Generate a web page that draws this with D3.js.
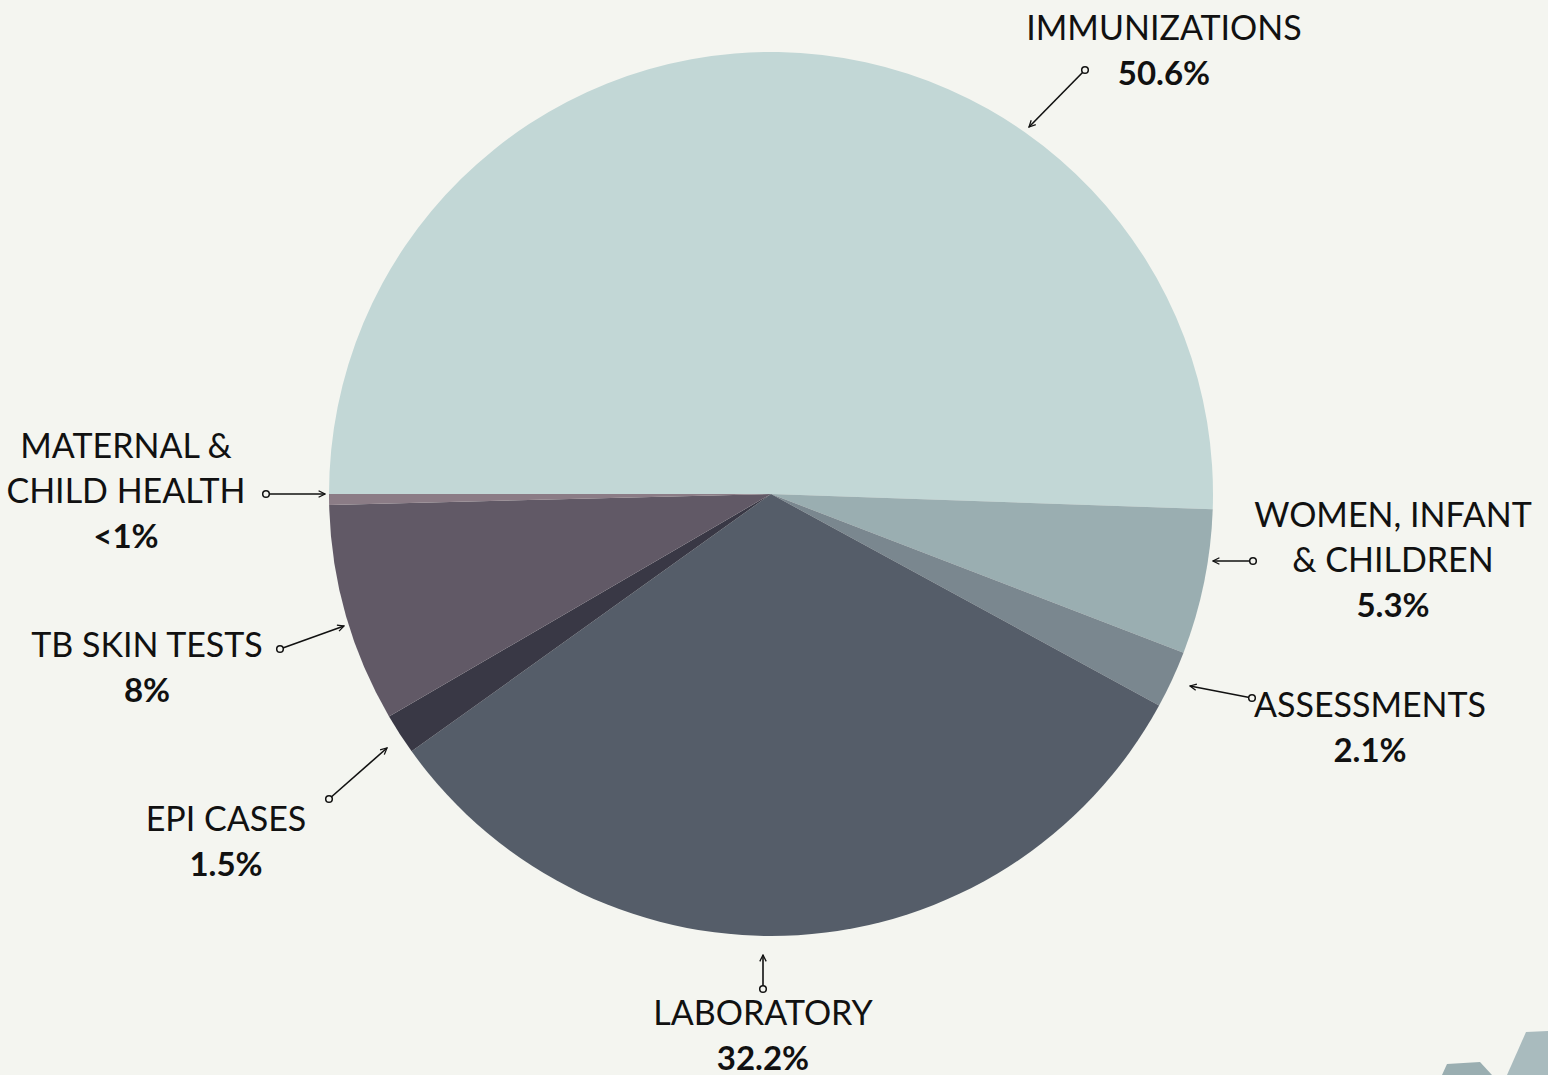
<!DOCTYPE html>
<html>
<head>
<meta charset="utf-8">
<script src="https://cdn.jsdelivr.net/npm/d3@7"></script>
<style>
  html, body { margin: 0; padding: 0; background: #f4f5f0; }
  svg { display: block; }
</style>
</head>
<body>
<svg id="chart" width="1548" height="1075"></svg>
<script>
// ---- data ----
const categories = ["IMMUNIZATIONS", "WOMEN, INFANT & CHILDREN", "ASSESSMENTS", "LABORATORY", "EPI CASES", "TB SKIN TESTS", "MATERNAL & CHILD HEALTH"];
const values = [50.6, 5.3, 2.1, 32.2, 1.5, 8.0, 0.4];
const valueLabels = ["50.6%", "5.3%", "2.1%", "32.2%", "1.5%", "8%", "<1%"];
const labelLines = [["IMMUNIZATIONS"], ["WOMEN, INFANT", "& CHILDREN"], ["ASSESSMENTS"], ["LABORATORY"], ["EPI CASES"], ["TB SKIN TESTS"], ["MATERNAL &", "CHILD HEALTH"]];
const colors = ["#c2d7d6", "#9aaeb1", "#7a878f", "#555d69", "#393845", "#615966", "#8b7c86"];

// ---- annotation layout (positions only) ----
const labelLayout = [
  { x: 1164, y: 40,  tail: [1085, 70],  tip: [1029, 127] },
  { x: 1393, y: 527, tail: [1253, 561], tip: [1213, 561] },
  { x: 1370, y: 717, tail: [1252, 698], tip: [1190, 686] },
  { x: 763,  y: 1025, tail: [763, 989], tip: [763, 955] },
  { x: 226,  y: 831, tail: [329, 799], tip: [387, 748] },
  { x: 147,  y: 657, tail: [280, 649], tip: [344, 626] },
  { x: 126,  y: 458, tail: [266, 494], tip: [325, 494] }
];

const svg = d3.select("#chart");
const W = 1548, H = 1075;
const cx = 771, cy = 494, R = 442;

svg.append("rect").attr("width", W).attr("height", H).attr("fill", "#f4f5f0");

// decorative shapes bottom-right
svg.append("path").attr("d", "M1447,1064 L1480,1062 L1492,1075 L1442,1075 Z").attr("fill", "#9aaeb1");
svg.append("path").attr("d", "M1526,1032 L1548,1031 L1548,1075 L1507,1075 Z").attr("fill", "#a9bbbe");

const defs = svg.append("defs");
defs.append("marker")
  .attr("id", "arrow")
  .attr("viewBox", "0 0 10 10")
  .attr("refX", 9).attr("refY", 5)
  .attr("markerWidth", 8).attr("markerHeight", 8)
  .attr("markerUnits", "userSpaceOnUse")
  .attr("orient", "auto")
  .append("path")
  .attr("d", "M1,1 L9,5 L1,9")
  .attr("fill", "none")
  .attr("stroke", "#111")
  .attr("stroke-width", 1.6);

const pie = d3.pie().sort(null).value(d => d).startAngle(-Math.PI / 2).endAngle(1.5 * Math.PI);
const arc = d3.arc().innerRadius(0).outerRadius(R);

const g = svg.append("g").attr("transform", `translate(${cx},${cy})`);
g.selectAll("path.slice")
  .data(pie(values))
  .join("path")
  .attr("class", "slice")
  .attr("d", arc)
  .attr("fill", (d, i) => colors[i]);

// labels
const lineH = 45;
categories.forEach((c, i) => {
  const L = labelLayout[i];
  const t = svg.append("text")
    .attr("text-anchor", "middle")
    .attr("font-family", "Lato, 'Open Sans', sans-serif")
    .attr("fill", "#111");
  labelLines[i].forEach((ln, k) => {
    t.append("tspan").attr("x", L.x).attr("y", L.y + k * lineH)
      .attr("font-size", 34).attr("font-weight", 400).text(ln);
  });
  t.append("tspan").attr("x", L.x).attr("y", L.y + labelLines[i].length * lineH)
    .attr("font-size", 33).attr("font-weight", 700).text(valueLabels[i]);

  svg.append("line")
    .attr("x1", L.tail[0]).attr("y1", L.tail[1])
    .attr("x2", L.tip[0]).attr("y2", L.tip[1])
    .attr("stroke", "#111").attr("stroke-width", 1.6)
    .attr("marker-end", "url(#arrow)");
  svg.append("circle")
    .attr("cx", L.tail[0]).attr("cy", L.tail[1]).attr("r", 3.3)
    .attr("fill", "#f4f5f0").attr("stroke", "#111").attr("stroke-width", 1.5);
});
</script>
</body>
</html>
